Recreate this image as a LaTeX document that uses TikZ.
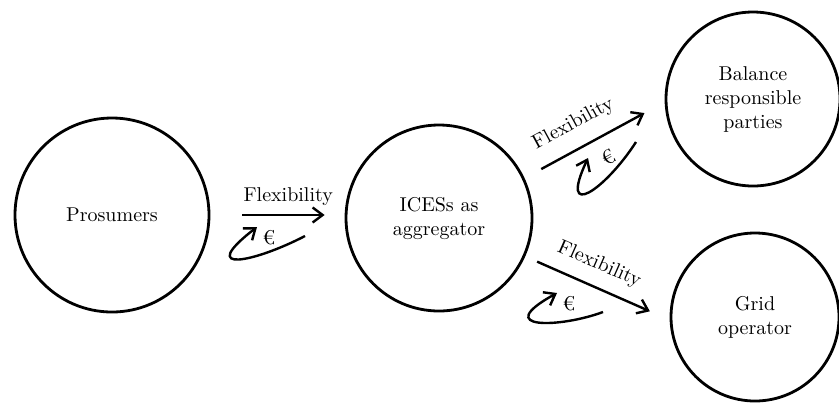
\documentclass[tikz,border=0pt]{standalone}
\usetikzlibrary{arrows.meta,positioning,calc}

\begin{document}
\begin{tikzpicture}[
    x=0.5pt, y=-0.5pt,
    party/.style={draw, circle, line width=1.4pt, align=center,
                  inner sep=0pt, font=\normalsize},
    flow/.style={line width=1.2pt, -{Straight Barb[length=5pt,width=7.5pt]}},
    payment/.style={line width=1.2pt, -{Straight Barb[length=5pt,width=7.5pt]}},
    flowlabel/.style={font=\normalsize, inner sep=2pt},
]

% canvas
\useasboundingbox (0,0) rectangle (839,403);

%-----------------------------------------------------------------------
% actors
\node[party, minimum size=97pt] (pros) at (112,215) {Prosumers};
\node[party, minimum size=93pt] (ices) at (439,218) {ICESs as\\aggregator};
\node[party, minimum size=87pt] (brp)  at (753,99)  {Balance\\responsible\\parties};
\node[party, minimum size=84pt] (grid) at (755,317) {Grid\\operator};

%-----------------------------------------------------------------------
% flexibility flows
\draw[flow, shorten <=16pt, shorten >=10pt] (pros.east) -- (pros.east -| ices.west)
    node[flowlabel, pos=0.58, above=2pt] {Flexibility};
\draw[flow, shorten <=9.5pt, shorten >=11.5pt] (ices.25) -- (brp.182)
    node[flowlabel, pos=0.43, sloped, above=5pt] {Flexibility};
\draw[flow, shorten <=6.5pt, shorten >=10.8pt] (ices.-24) -- (grid.182)
    node[flowlabel, pos=0.45, sloped, above=4pt] {Flexibility};

%-----------------------------------------------------------------------
% payments back
\coordinate (pay1a) at (305,236);
\coordinate (pay1b) at (257,227);
\coordinate (pay2a) at (636,142);
\coordinate (pay2b) at (588,158);
\coordinate (pay3a) at (603,312);
\coordinate (pay3b) at (557,293);

\draw[payment] (pay1a) .. controls (255,262) and (195,275) .. (pay1b);
\draw[payment] (pay2a) .. controls (605,190) and (558,222) .. (pay2b);
\draw[payment] (pay3a) .. controls (560,328) and (490,330) .. (pay3b);

\node (eur1) at (269,238) {€};
\node[rotate=29] (eur2) at (608,157) {€};
\node (eur3) at (569,304) {€};

\end{tikzpicture}
\end{document}
